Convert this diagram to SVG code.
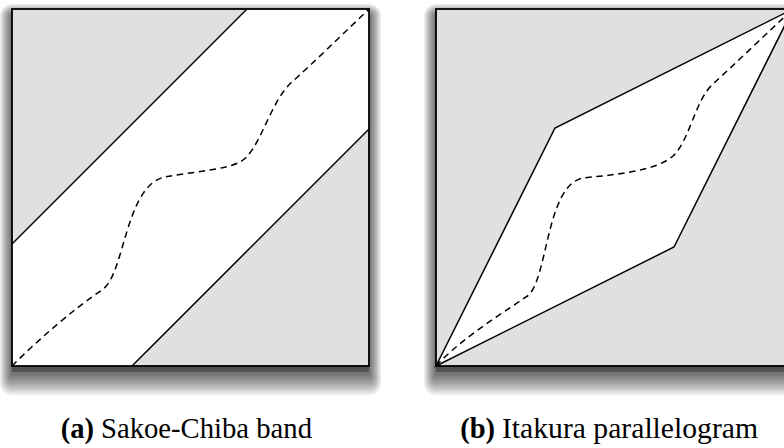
<svg xmlns="http://www.w3.org/2000/svg" width="784" height="448" viewBox="0 0 784 448">
<style>
.bg{fill:#e0e0e0;}
.band{fill:#ffffff;stroke:none;}
.edge{fill:none;stroke:#000;stroke-width:1.5;stroke-linejoin:miter;}
.path{fill:none;stroke:#000;stroke-width:1.5;stroke-dasharray:6.5,4.5;}
.frame{fill:none;stroke:#000;stroke-width:1.8;}
.sh rect{fill:#000;fill-opacity:0.07;}
.sh rect.core{fill-opacity:0.3;}
.cap{font-family:"Liberation Serif",serif;font-size:28.5px;fill:#000;}
.capb{font-weight:bold;}
</style>
<defs>
<g id="shadowstack" class="sh">
<rect class="core" x="0" y="6" width="357" height="357"/>
<rect x="-1.2" y="5.8" width="359.4" height="360.4" rx="1.2"/>
<rect x="-2.4" y="4.6" width="361.8" height="363.8" rx="2.4"/>
<rect x="-3.6" y="3.4" width="364.2" height="367.2" rx="3.6"/>
<rect x="-4.8" y="2.2" width="366.6" height="370.6" rx="4.8"/>
<rect x="-6" y="1" width="369" height="374" rx="6"/>
<rect x="-7.2" y="-0.2" width="371.4" height="377.4" rx="7.2"/>
<rect x="-8.4" y="-1.4" width="373.8" height="380.8" rx="8.4"/>
<rect x="-9.6" y="-2.6" width="376.2" height="384.2" rx="9.6"/>
<rect x="-10.8" y="-3.8" width="378.6" height="387.6" rx="10.8"/>
<rect x="-12" y="-5" width="381" height="391" rx="12"/>
</g>
</defs>
<g id="panel-a">
<use href="#shadowstack" x="12" y="9"/>
<rect class="bg" x="12" y="9" width="357" height="357"/>
<polygon class="band" points="12,244 247,9 369,9 369,129 132,366 12,366"/>
<g id="connectors-a">
<line class="edge" x1="12" y1="244" x2="247" y2="9"/>
<line class="edge" x1="132" y1="366" x2="369" y2="129"/>
<path class="path" d="M12,366 C40,338 75,308 102,290 C125,275 125,185 165,177 C190,172 225,170 240,162 C260,152 270,100 293,81 C310,66 345,32 369,9"/>
</g>
<rect class="frame" x="12" y="9" width="357" height="357"/>
</g>
<g id="panel-b">
<use href="#shadowstack" x="436" y="9"/>
<rect class="bg" x="436" y="9" width="357" height="357"/>
<polygon class="band" points="436,366 555,128 793,9 674,247"/>
<g id="connectors-b">
<polygon class="edge" points="436,366 555,128 793,9 674,247"/>
<path class="path" d="M436,366 C460,340 495,318 526,297 C548,285 545,185 583,178 C610,175 655,172 673,156 C690,140 695,100 713,84 C735,64 770,30 793,9"/>
</g>
<rect class="frame" x="436" y="9" width="357" height="357"/>
</g>
<g id="captions">
<text class="cap capb" x="94" y="438" text-anchor="end">(a)</text>
<text class="cap" x="101" y="438" textLength="211" lengthAdjust="spacingAndGlyphs">Sakoe-Chiba band</text>
<text class="cap capb" x="495" y="438" text-anchor="end">(b)</text>
<text class="cap" x="502" y="438" textLength="256" lengthAdjust="spacingAndGlyphs">Itakura parallelogram</text>
</g>
</svg>
